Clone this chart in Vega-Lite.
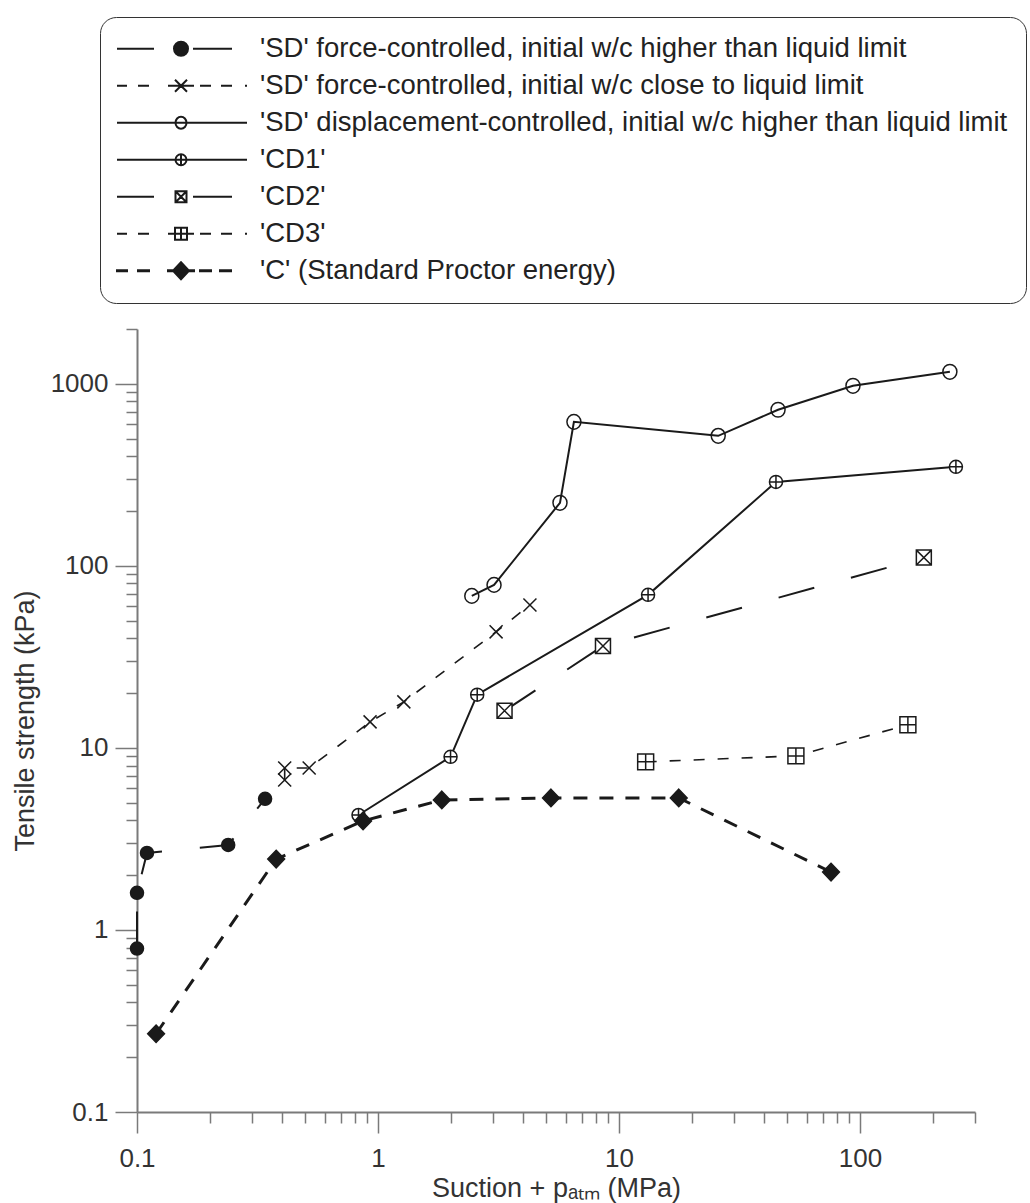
{
  "$schema": "https://vega.github.io/schema/vega-lite/v6.json",
  "width": 838,
  "height": 783,
  "autosize": {"type": "none"},
  "padding": {"left": 137, "top": 329, "right": 55, "bottom": 91},
  "background": "white",
  "config": {
    "view": {"stroke": null},
    "axis": {
      "grid": false,
      "domainColor": "#7a7a7a",
      "domainWidth": 2,
      "tickColor": "#7a7a7a",
      "tickWidth": 1.5,
      "labelFont": "Liberation Sans",
      "labelFontSize": 26,
      "labelColor": "#333333",
      "titleFont": "Liberation Sans",
      "titleFontSize": 27,
      "titleFontWeight": "normal",
      "titleColor": "#333333",
      "labelFlush": false,
      "labelOverlap": false
    }
  },
  "data": {
    "values": [
      {"s": "SD1", "i": 1, "x": 0.1, "y": 0.79},
      {"s": "SD1", "i": 2, "x": 0.1, "y": 1.6},
      {"s": "SD1", "i": 3, "x": 0.11, "y": 2.65},
      {"s": "SD1", "i": 4, "x": 0.239, "y": 2.93},
      {"s": "SD1", "i": 5, "x": 0.34, "y": 5.25},
      {"s": "SD2", "i": 1, "x": 0.41, "y": 6.67},
      {"s": "SD2", "i": 2, "x": 0.41, "y": 7.76},
      {"s": "SD2", "i": 3, "x": 0.518, "y": 7.76},
      {"s": "SD2", "i": 4, "x": 0.927, "y": 13.9},
      {"s": "SD2", "i": 5, "x": 1.28, "y": 17.9},
      {"s": "SD2", "i": 6, "x": 3.09, "y": 43.4},
      {"s": "SD2", "i": 7, "x": 4.27, "y": 61},
      {"s": "SD3", "i": 1, "x": 2.45, "y": 68.4},
      {"s": "SD3", "i": 2, "x": 3.03, "y": 78.6},
      {"s": "SD3", "i": 3, "x": 5.69, "y": 222},
      {"s": "SD3", "i": 4, "x": 6.5, "y": 618},
      {"s": "SD3", "i": 5, "x": 25.8, "y": 518},
      {"s": "SD3", "i": 6, "x": 45.7, "y": 720},
      {"s": "SD3", "i": 7, "x": 93.5, "y": 975},
      {"s": "SD3", "i": 8, "x": 236, "y": 1164},
      {"s": "CD1", "i": 1, "x": 0.83, "y": 4.28},
      {"s": "CD1", "i": 2, "x": 2.0, "y": 8.93},
      {"s": "CD1", "i": 3, "x": 2.58, "y": 19.6},
      {"s": "CD1", "i": 4, "x": 13.2, "y": 69.3},
      {"s": "CD1", "i": 5, "x": 44.8, "y": 289},
      {"s": "CD1", "i": 6, "x": 250, "y": 350},
      {"s": "CD2", "i": 1, "x": 3.35, "y": 16.0},
      {"s": "CD2", "i": 2, "x": 8.58, "y": 36.3},
      {"s": "CD2", "i": 3, "x": 184, "y": 111},
      {"s": "CD3", "i": 1, "x": 12.9, "y": 8.38},
      {"s": "CD3", "i": 2, "x": 54.2, "y": 9.04},
      {"s": "CD3", "i": 3, "x": 158, "y": 13.4},
      {"s": "C", "i": 1, "x": 0.12, "y": 0.269},
      {"s": "C", "i": 2, "x": 0.378, "y": 2.45},
      {"s": "C", "i": 3, "x": 0.867, "y": 3.97},
      {"s": "C", "i": 4, "x": 1.84, "y": 5.18},
      {"s": "C", "i": 5, "x": 5.22, "y": 5.31},
      {"s": "C", "i": 6, "x": 17.7, "y": 5.31},
      {"s": "C", "i": 7, "x": 75.8, "y": 2.08}
    ]
  },
  "encoding": {
    "x": {
      "field": "x",
      "type": "quantitative",
      "scale": {"type": "log", "domain": [0.1, 300], "nice": false},
      "axis": {
        "title": "Suction + pₐₜₘ (MPa)",
        "titlePadding": 4,
        "values": [0.1, 0.2, 0.3, 0.4, 0.5, 0.6, 0.7, 0.8, 0.9, 1, 2, 3, 4, 5, 6, 7, 8, 9, 10, 20, 30, 40, 50, 60, 70, 80, 90, 100, 200, 300],
        "labelExpr": "datum.value == 0.1 ? '0.1' : datum.value == 1 ? '1' : datum.value == 10 ? '10' : datum.value == 100 ? '100' : ''",
        "tickSize": {"condition": {"test": "indexof([0.1, 1, 10, 100], datum.value) >= 0", "value": 21}, "value": 11},
        "labelPadding": 12
      }
    },
    "y": {
      "field": "y",
      "type": "quantitative",
      "scale": {"type": "log", "domain": [0.1, 2000], "nice": false},
      "axis": {
        "title": "Tensile strength (kPa)",
        "titlePadding": 11,
        "values": [0.1, 0.2, 0.3, 0.4, 0.5, 0.6, 0.7, 0.8, 0.9, 1, 2, 3, 4, 5, 6, 7, 8, 9, 10, 20, 30, 40, 50, 60, 70, 80, 90, 100, 200, 300, 400, 500, 600, 700, 800, 900, 1000, 2000],
        "labelExpr": "datum.value == 0.1 ? '0.1' : datum.value == 1 ? '1' : datum.value == 10 ? '10' : datum.value == 100 ? '100' : datum.value == 1000 ? '1000' : ''",
        "tickSize": {"condition": {"test": "indexof([0.1, 1, 10, 100, 1000], datum.value) >= 0", "value": 22}, "value": 11},
        "labelPadding": 7
      }
    }
  },
  "resolve": {"scale": {"shape": "independent", "fill": "independent"}},
  "layer": [
    {
      "transform": [{"filter": {"field": "s", "oneOf": ["SD3", "CD1"]}}],
      "mark": {"type": "line", "color": "#1a1a1a", "strokeWidth": 2},
      "encoding": {"detail": {"field": "s"}, "order": {"field": "i", "type": "quantitative"}}
    },
    {
      "transform": [{"filter": {"field": "s", "oneOf": ["SD1", "CD2"]}}],
      "mark": {"type": "line", "color": "#1a1a1a", "strokeWidth": 2, "strokeDash": [37, 38]},
      "encoding": {"detail": {"field": "s"}, "order": {"field": "i", "type": "quantitative"}}
    },
    {
      "transform": [{"filter": {"field": "s", "oneOf": ["SD2", "CD3"]}}],
      "mark": {"type": "line", "color": "#1a1a1a", "strokeWidth": 1.6, "strokeDash": [11, 13]},
      "encoding": {"detail": {"field": "s"}, "order": {"field": "i", "type": "quantitative"}}
    },
    {
      "transform": [{"filter": {"field": "s", "equal": "C"}}],
      "mark": {"type": "line", "color": "#1a1a1a", "strokeWidth": 3, "strokeDash": [14, 12]},
      "encoding": {"detail": {"field": "s"}, "order": {"field": "i", "type": "quantitative"}}
    },
    {
      "mark": {"type": "point", "filled": true, "size": 400, "stroke": "#1a1a1a", "strokeWidth": 2, "opacity": 0},
      "encoding": {
        "shape": {
          "field": "s",
          "type": "nominal",
          "scale": {
            "domain": ["SD1", "SD2", "SD3", "CD1", "CD2", "CD3", "C"],
            "range": [
              "M-6.4,0H-2.7M1.2,0H5.1M-0.7,0A0.7,0.7 0 1,0 0.7,0A0.7,0.7 0 1,0 -0.7,0Z",
              "M-6.4,0H-5.4M-4.3,0H-3.2M-1.3,0H1.3M1.9,0H3.0M4.0,0H5.1M6.4,0H6.6M-0.6,-0.6L0.6,0.6M0.6,-0.6L-0.6,0.6",
              "M-6.4,0H6.6M-0.55,0A0.55,0.6 0 1,0 0.55,0A0.55,0.6 0 1,0 -0.55,0Z",
              "M-6.4,0H6.6M-0.55,0A0.55,0.55 0 1,0 0.55,0A0.55,0.55 0 1,0 -0.55,0ZM0,-0.55V0.55",
              "M-6.4,0H-2.7M1.2,0H5.1M-0.55,-0.55H0.55V0.55H-0.55ZM-0.55,-0.55L0.55,0.55M0.55,-0.55L-0.55,0.55",
              "M-6.4,0H-5.4M-4.3,0H-3.2M-1.3,0H1.3M1.9,0H3.0M4.0,0H5.1M6.4,0H6.6M-0.6,-0.6H0.6V0.6H-0.6ZM0,-0.6V0.6",
              "M-6.4,-0.05H-5.4V0.05H-6.4ZM-4.3,-0.05H-3.2V0.05H-4.3ZM-1.3,-0.05H1.3V0.05H-1.3ZM1.9,-0.05H3.0V0.05H1.9ZM3.9,-0.05H5.0V0.05H3.9ZM0,-0.85L0.8,0L0,0.85L-0.8,0Z"
            ]
          },
          "legend": {
            "orient": "none",
            "legendX": -37,
            "legendY": -312,
            "title": null,
            "direction": "vertical",
            "labelExpr": "datum.value == 'SD1' ? \"'SD' force-controlled, initial w/c higher than liquid limit\" : datum.value == 'SD2' ? \"'SD' force-controlled, initial w/c close to liquid limit\" : datum.value == 'SD3' ? \"'SD' displacement-controlled, initial w/c higher than liquid limit\" : datum.value == 'CD1' ? \"'CD1'\" : datum.value == 'CD2' ? \"'CD2'\" : datum.value == 'CD3' ? \"'CD3'\" : \"'C' (Standard Proctor energy)\"",
            "labelFont": "Liberation Sans",
            "labelFontSize": 27.5,
            "labelColor": "#222222",
            "labelLimit": 1000,
            "symbolSize": 400,
            "symbolStrokeWidth": 2,
            "symbolOpacity": 1,
            "symbolOffset": 49.25,
            "labelOffset": 65.25,
            "rowPadding": 8,
            "padding": 18,
            "cornerRadius": 16,
            "strokeColor": "#333333",
            "fillColor": "white"
          }
        },
        "fill": {
          "field": "s",
          "type": "nominal",
          "scale": {
            "domain": ["SD1", "SD2", "SD3", "CD1", "CD2", "CD3", "C"],
            "range": ["#1a1a1a", "white", "white", "white", "white", "white", "#1a1a1a"]
          }
        }
      }
    },
    {
      "mark": {"type": "point", "filled": true, "size": 196, "stroke": "#1a1a1a", "strokeWidth": 1.5, "opacity": 1},
      "encoding": {
        "shape": {
          "field": "s",
          "type": "nominal",
          "scale": {
            "domain": ["C", "CD1", "CD2", "CD3", "SD1", "SD2", "SD3"],
            "range": [
              "M0,-1.25L1.2,0L0,1.25L-1.2,0Z",
              "M-0.93,0A0.93,0.93 0 1,0 0.93,0A0.93,0.93 0 1,0 -0.93,0ZM-0.93,0H0.93M0,-0.93V0.93",
              "M-1.07,-1.07H1.07V1.07H-1.07ZM-1.07,-1.07L1.07,1.07M1.07,-1.07L-1.07,1.07",
              "M-1.14,-1.14H1.14V1.14H-1.14ZM-1.14,0H1.14M0,-1.14V1.14",
              "M-0.93,0A0.93,0.93 0 1,0 0.93,0A0.93,0.93 0 1,0 -0.93,0Z",
              "M-0.93,-0.93L0.93,0.93M0.93,-0.93L-0.93,0.93",
              "M-1,0A1,1.05 0 1,0 1,0A1,1.05 0 1,0 -1,0Z"
            ]
          },
          "legend": null
        },
        "fill": {
          "field": "s",
          "type": "nominal",
          "scale": {
            "domain": ["C", "CD1", "CD2", "CD3", "SD1", "SD2", "SD3"],
            "range": ["#1a1a1a", "white", "white", "white", "#1a1a1a", "transparent", "transparent"]
          },
          "legend": null
        }
      }
    }
  ]
}
